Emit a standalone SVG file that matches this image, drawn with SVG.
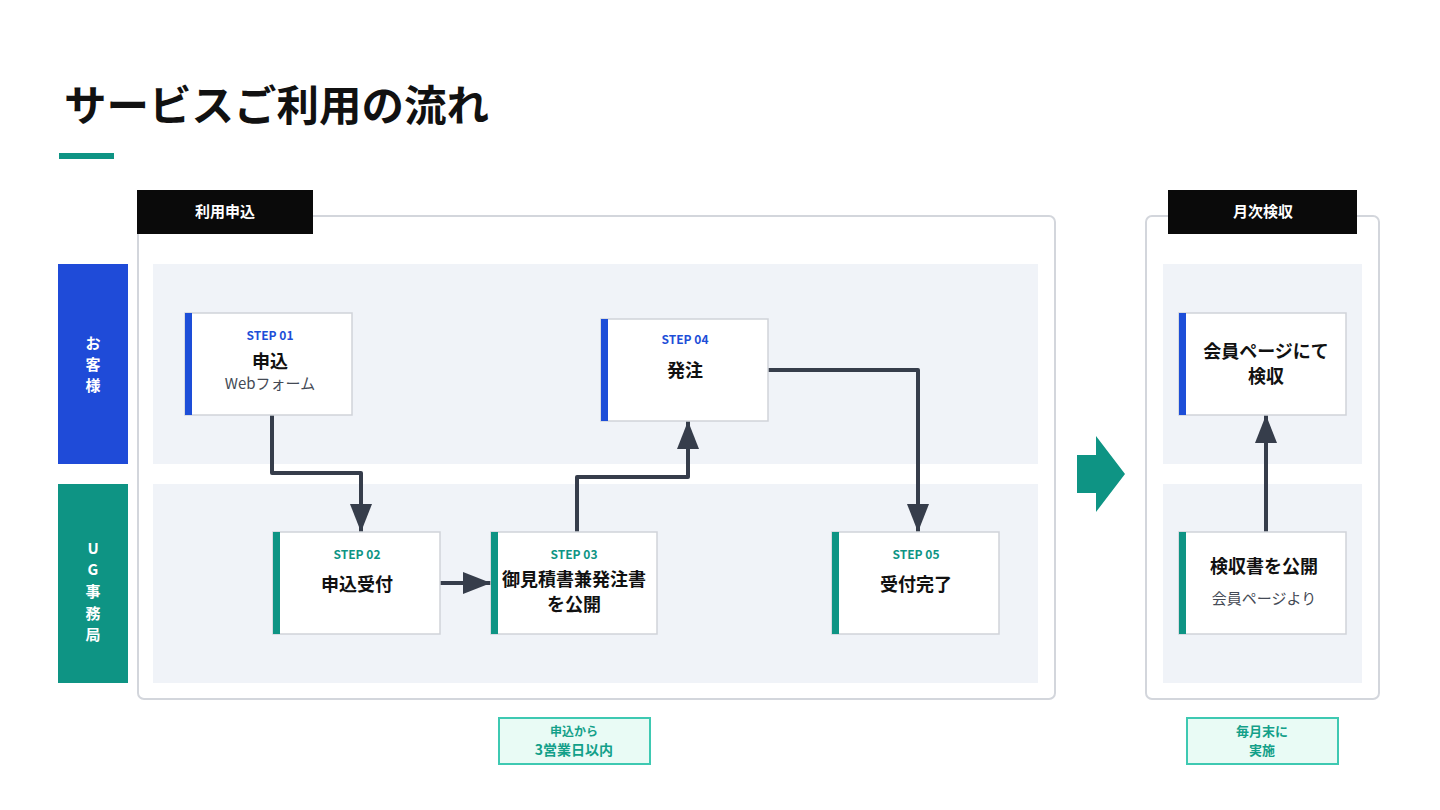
<svg xmlns="http://www.w3.org/2000/svg" width="1440" height="810" viewBox="0 0 1440 810">
<defs>
<style>
text{font-family:"Noto Sans CJK JP","Noto Sans",sans-serif;}
.frame{fill:#fff;stroke:#d3d6dc;stroke-width:2;}
.tab{fill:#0a0a0a;}
.tabt{fill:#fff;font-size:15px;font-weight:700;text-anchor:middle;}
.lane{fill:#f0f3f8;}
.node{fill:#fff;stroke:#d0d3d9;stroke-width:1.5;}
.bb{fill:#1d4ed8;}
.tb{fill:#0e9484;}
.stepb{fill:#1d4ed8;font-size:12px;font-weight:700;text-anchor:middle;}
.stept{fill:#0e9484;font-size:12px;font-weight:700;text-anchor:middle;}
.main{fill:#111;font-size:18px;font-weight:700;text-anchor:middle;}
.sub{fill:#444a55;font-size:15px;text-anchor:middle;}
.lbl{fill:#fff;font-size:15px;font-weight:700;text-anchor:middle;}
.conn{fill:none;stroke:#363d4b;stroke-width:4;stroke-linejoin:round;}
.note{fill:#e9fbf5;stroke:#3ec9b2;stroke-width:2;}
.notet{fill:#13a089;font-weight:700;text-anchor:middle;}
</style>
<marker id="ah" markerUnits="userSpaceOnUse" markerWidth="30" markerHeight="24" refX="28" refY="11" orient="auto">
<polygon points="0,0 28,11 0,22" fill="#363d4b"/>
</marker>
</defs>
<rect width="1440" height="810" fill="#fff"/>
<g id="title">
<text x="64" y="121" font-size="42.5" font-weight="700" fill="#111">サービスご利用の流れ</text>
<rect x="59" y="153" width="55" height="6" fill="#0e9484"/>
</g>
<g id="frame-apply">
<rect class="frame" x="138" y="216" width="917" height="483" rx="6"/>
<rect class="tab" x="137" y="190" width="176" height="44"/>
<text class="tabt" x="225" y="217">利用申込</text>
<rect class="lane" x="153" y="264" width="885" height="200"/>
<rect class="lane" x="153" y="484" width="885" height="199"/>
</g>
<g id="frame-monthly">
<rect class="frame" x="1146" y="216" width="233" height="483" rx="6"/>
<rect class="tab" x="1168" y="190" width="189" height="44"/>
<text class="tabt" x="1263" y="217">月次検収</text>
<rect class="lane" x="1163" y="264" width="199" height="200"/>
<rect class="lane" x="1163" y="484" width="199" height="199"/>
</g>
<g id="lane-customer">
<rect x="58" y="264" width="70" height="200" fill="#1f4bd8"/>
<text class="lbl" x="93" y="349">お</text>
<text class="lbl" x="93" y="370">客</text>
<text class="lbl" x="93" y="391">様</text>
</g>
<g id="lane-office">
<rect x="58" y="484" width="70" height="199" fill="#0e9484"/>
<text class="lbl" x="93" y="554">U</text>
<text class="lbl" x="93" y="575">G</text>
<text class="lbl" x="93" y="597">事</text>
<text class="lbl" x="93" y="619">務</text>
<text class="lbl" x="93" y="640">局</text>
</g>
<g id="connectors">
<path class="conn" d="M272,415 V473 H361 V532" marker-end="url(#ah)"/>
<path class="conn" d="M440,583 H491" marker-end="url(#ah)"/>
<path class="conn" d="M577,532 V477 H688 V421" marker-end="url(#ah)"/>
<path class="conn" d="M768,370 H918 V532" marker-end="url(#ah)"/>
<path class="conn" d="M1266,532 V415" marker-end="url(#ah)"/>
</g>
<g id="step01">
<rect class="node" x="185" y="313" width="167" height="102"/>
<rect class="bb" x="185" y="313" width="7" height="102"/>
<text class="stepb" x="270" y="340">STEP 01</text>
<text class="main" x="270" y="368" font-size="17">申込</text>
<text class="sub" x="270" y="389" font-size="16">Webフォーム</text>
</g>
<g id="step02">
<rect class="node" x="273" y="532" width="167" height="102"/>
<rect class="tb" x="273" y="532" width="7" height="102"/>
<text class="stept" x="357" y="559">STEP 02</text>
<text class="main" x="357" y="591" font-size="19">申込受付</text>
</g>
<g id="step03">
<rect class="node" x="491" y="532" width="166" height="102"/>
<rect class="tb" x="491" y="532" width="7" height="102"/>
<text class="stept" x="574" y="559">STEP 03</text>
<text class="main" x="574" y="586" font-size="16.5">御見積書兼発注書</text>
<text class="main" x="574" y="611" font-size="16.5">を公開</text>
</g>
<g id="step04">
<rect class="node" x="601" y="319" width="167" height="102"/>
<rect class="bb" x="601" y="319" width="7" height="102"/>
<text class="stepb" x="685" y="344">STEP 04</text>
<text class="main" x="685" y="377" font-size="19">発注</text>
</g>
<g id="step05">
<rect class="node" x="832" y="532" width="167" height="102"/>
<rect class="tb" x="832" y="532" width="7" height="102"/>
<text class="stept" x="916" y="559">STEP 05</text>
<text class="main" x="916" y="591" font-size="19">受付完了</text>
</g>
<g id="inspect">
<rect class="node" x="1179" y="313" width="167" height="102"/>
<rect class="bb" x="1179" y="313" width="7" height="102"/>
<text class="main" x="1266" y="358" font-size="16.5">会員ページにて</text>
<text class="main" x="1266" y="383" font-size="16.5">検収</text>
</g>
<g id="publish">
<rect class="node" x="1179" y="532" width="167" height="102"/>
<rect class="tb" x="1179" y="532" width="7" height="102"/>
<text class="main" x="1264" y="573" font-size="17">検収書を公開</text>
<text class="sub" x="1264" y="604">会員ページより</text>
</g>
<g id="big-arrow">
<polygon points="1077,455 1096,455 1096,436 1125,474 1096,512 1096,493 1077,493" fill="#0e9484"/>
</g>
<g id="note-apply">
<rect class="note" x="499" y="718" width="151" height="46"/>
<text class="notet" x="574" y="736" font-size="12">申込から</text>
<text class="notet" x="574" y="755" font-size="14">3営業日以内</text>
</g>
<g id="note-monthly">
<rect class="note" x="1187" y="718" width="151" height="46"/>
<text class="notet" x="1262" y="736" font-size="13">毎月末に</text>
<text class="notet" x="1262" y="755" font-size="13">実施</text>
</g>
</svg>
